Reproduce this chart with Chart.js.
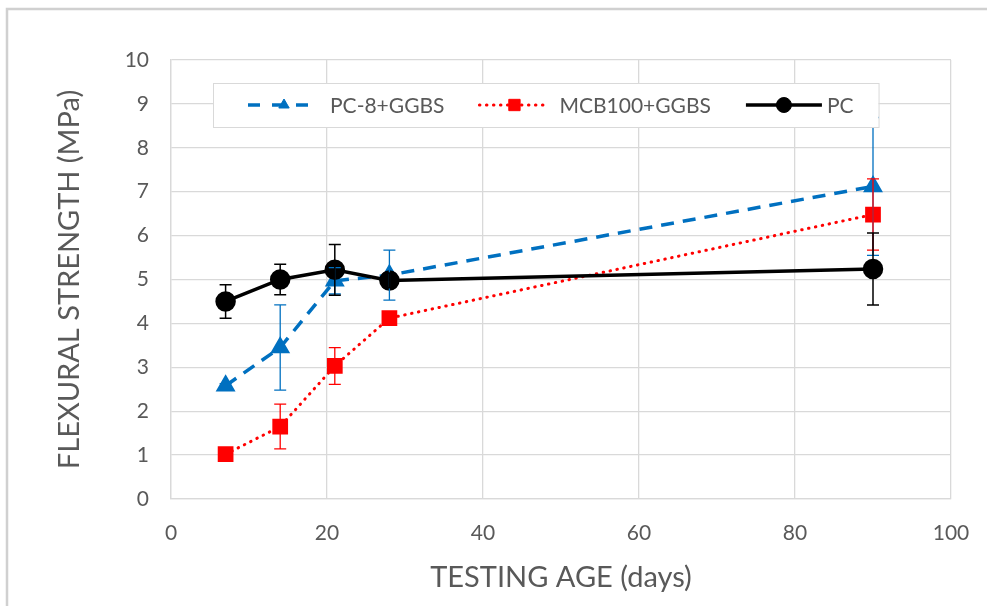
<!DOCTYPE html>
<html>
<head>
<meta charset="utf-8">
<title>Flexural strength vs testing age</title>
<script src="https://cdn.jsdelivr.net/npm/chart.js@4.4.0/dist/chart.umd.min.js"></script>
<style>
  html, body { margin: 0; padding: 0; background: #fff; }
  #flexChart { display: block; }
</style>
</head>
<body>
<canvas id="flexChart" width="987" height="606"></canvas>
<script>
// testing ages (days) and mean flexural strength (MPa) with +/- error
const ages = [7, 14, 21, 28, 90];

const pc8Ggbs = [2.58, 3.45, 4.97, 5.10, 7.12];
const pc8GgbsErr = [0.05, 0.97, 0.30, 0.57, 1.57];

const mcbGgbs = [1.02, 1.65, 3.03, 4.12, 6.48];
const mcbGgbsErr = [0.05, 0.51, 0.42, 0.06, 0.81];

const pcOnly = [4.50, 5.00, 5.22, 4.98, 5.24];
const pcOnlyErr = [0.38, 0.35, 0.58, 0.17, 0.82];

const xTicks = [0, 20, 40, 60, 80, 100];
const yTicks = [0, 1, 2, 3, 4, 5, 6, 7, 8, 9, 10];

const seriesLabels = ["PC-8+GGBS", "MCB100+GGBS", "PC"];

const GREY_TEXT = "#595959";
const GRID = "#d9d9d9";

Chart.defaults.font.family = "Lato, 'Open Sans', sans-serif";
Chart.defaults.color = GREY_TEXT;

function toPoints(xs, ys) {
  return xs.map((x, i) => ({ x: x, y: ys[i] }));
}

// thin frame on the top and left edges of the figure
const framePlugin = {
  id: "frame",
  beforeDraw(chart) {
    const ctx = chart.ctx;
    ctx.save();
    ctx.fillStyle = "#fff";
    ctx.fillRect(0, 0, chart.width, chart.height);
    ctx.strokeStyle = "#d0d0d0";
    ctx.lineWidth = 2.5;
    ctx.beginPath();
    ctx.moveTo(chart.width, 9);
    ctx.lineTo(7, 9);
    ctx.lineTo(7, chart.height);
    ctx.stroke();
    ctx.restore();
  }
};

// vertical error bars with caps, read from dataset.errorBars
const errorBarPlugin = {
  id: "errorBars",
  afterDatasetsDraw(chart) {
    const ctx = chart.ctx;
    const yScale = chart.scales.y;
    const metas = chart.getSortedVisibleDatasetMetas().slice().reverse();
    metas.forEach(meta => {
      const ds = chart.data.datasets[meta.index];
      if (!ds.errorBars) return;
      ctx.save();
      ctx.strokeStyle = ds.borderColor;
      ctx.lineWidth = ds.errorWidth || 1.3;
      meta.data.forEach((pt, i) => {
        const v = ds.data[i].y;
        const e = ds.errorBars[i];
        const top = yScale.getPixelForValue(v + e);
        const bot = yScale.getPixelForValue(v - e);
        const x = pt.x;
        ctx.beginPath();
        ctx.moveTo(x, top); ctx.lineTo(x, bot);
        ctx.moveTo(x - 6, top); ctx.lineTo(x + 6, top);
        ctx.moveTo(x - 6, bot); ctx.lineTo(x + 6, bot);
        ctx.stroke();
      });
      ctx.restore();
    });
  }
};

// boxed legend placed inside the plot area
const insideLegendPlugin = {
  id: "insideLegend",
  afterDraw(chart) {
    const ctx = chart.ctx;
    const area = chart.chartArea;
    const boxLeft = area.left + 42;
    const boxTop = area.top + 23;
    const boxH = 44;
    ctx.save();
    ctx.font = "21px " + Chart.defaults.font.family;

    let x = boxLeft + 35;
    const items = chart.data.datasets.map(ds => {
      const w = ctx.measureText(ds.label).width;
      const item = { ds: ds, x: x, w: w, sw: ds.legendWidth, gap: ds.legendGap };
      x += ds.legendWidth + ds.legendGap + w + 35;
      return item;
    });
    const boxRight = x - 35 + 25;

    ctx.fillStyle = "#fff";
    ctx.fillRect(boxLeft, boxTop, boxRight - boxLeft, boxH);
    ctx.strokeStyle = GRID;
    ctx.lineWidth = 1;
    ctx.strokeRect(boxLeft + 0.5, boxTop + 0.5, boxRight - boxLeft, boxH);

    const cy = boxTop + boxH / 2;
    items.forEach(it => {
      const ds = it.ds;
      ctx.save();
      ctx.strokeStyle = ds.borderColor;
      ctx.lineWidth = ds.borderWidth;
      ctx.lineCap = ds.borderCapStyle || "butt";
      ctx.setLineDash(ds.legendDash || ds.borderDash || []);
      ctx.beginPath();
      ctx.moveTo(it.x, cy);
      ctx.lineTo(it.x + it.sw, cy);
      ctx.stroke();
      ctx.restore();

      ctx.fillStyle = ds.pointBackgroundColor;
      ctx.strokeStyle = ds.borderColor;
      Chart.helpers.drawPoint(ctx, {
        pointStyle: ds.pointStyle,
        radius: ds.legendRadius,
        rotation: 0,
        borderWidth: 1
      }, it.x + it.sw / 2, cy);

      ctx.fillStyle = GREY_TEXT;
      ctx.textBaseline = "middle";
      ctx.textAlign = "left";
      ctx.fillText(ds.label, it.x + it.sw + it.gap, cy + 1);
    });
    ctx.restore();
  }
};

const ctx = document.getElementById("flexChart").getContext("2d");
new Chart(ctx, {
  type: "line",
  data: {
    datasets: [
      {
        label: seriesLabels[0],
        data: toPoints(ages, pc8Ggbs),
        errorBars: pc8GgbsErr,
        borderColor: "#0070c0",
        backgroundColor: "#0070c0",
        pointBackgroundColor: "#0070c0",
        borderWidth: 3.5,
        borderDash: [13, 9],
        legendDash: [12, 12],
        legendWidth: 72,
        legendGap: 10,
        pointStyle: "triangle",
        pointRadius: 8,
        legendRadius: 6,
        order: 2
      },
      {
        label: seriesLabels[1],
        data: toPoints(ages, mcbGgbs),
        errorBars: mcbGgbsErr,
        borderColor: "#ff0000",
        backgroundColor: "#ff0000",
        pointBackgroundColor: "#ff0000",
        borderWidth: 3,
        borderDash: [0.5, 6.5],
        borderCapStyle: "round",
        legendWidth: 70,
        legendGap: 10,
        pointStyle: "rect",
        pointRadius: 9,
        legendRadius: 8,
        order: 1
      },
      {
        label: seriesLabels[2],
        data: toPoints(ages, pcOnly),
        errorBars: pcOnlyErr,
        errorWidth: 1.5,
        borderColor: "#000000",
        backgroundColor: "#000000",
        pointBackgroundColor: "#000000",
        borderWidth: 3.5,
        legendWidth: 76,
        legendGap: 5,
        pointStyle: "circle",
        pointRadius: 8.5,
        legendRadius: 7.5,
        order: 0
      }
    ]
  },
  options: {
    responsive: false,
    animation: false,
    layout: { padding: { left: 48, top: 60, right: 36, bottom: 7 } },
    elements: {
      line: { tension: 0, fill: false },
      point: { borderWidth: 1, hoverRadius: 8 }
    },
    plugins: {
      legend: { display: false },
      tooltip: { enabled: false }
    },
    scales: {
      x: {
        type: "linear",
        min: xTicks[0],
        max: xTicks[xTicks.length - 1],
        afterBuildTicks(scale) { scale.ticks = xTicks.map(v => ({ value: v })); },
        afterFit(scale) {
          scale.height = 100;
          scale.paddingLeft = 0;
          scale.paddingRight = 0;
        },
        ticks: { font: { size: 21 }, color: GREY_TEXT, padding: 22 },
        grid: { color: GRID, lineWidth: 1.3, drawTicks: false },
        border: { color: GRID, width: 1.3 },
        title: {
          display: true,
          text: "TESTING AGE (days)",
          font: { size: 29 },
          color: GREY_TEXT,
          padding: { top: 0, bottom: 4 }
        }
      },
      y: {
        min: yTicks[0],
        max: yTicks[yTicks.length - 1],
        afterBuildTicks(scale) { scale.ticks = yTicks.map(v => ({ value: v })); },
        afterFit(scale) { scale.width = 123; },
        ticks: { font: { size: 21 }, color: GREY_TEXT, padding: 22 },
        grid: { color: GRID, lineWidth: 1.3, drawTicks: false },
        border: { color: GRID, width: 1.3 },
        title: {
          display: true,
          text: "FLEXURAL STRENGTH (MPa)",
          font: { size: 29 },
          color: GREY_TEXT,
          padding: { top: 4, bottom: 4 }
        }
      }
    }
  },
  plugins: [framePlugin, errorBarPlugin, insideLegendPlugin]
});
</script>
</body>
</html>
